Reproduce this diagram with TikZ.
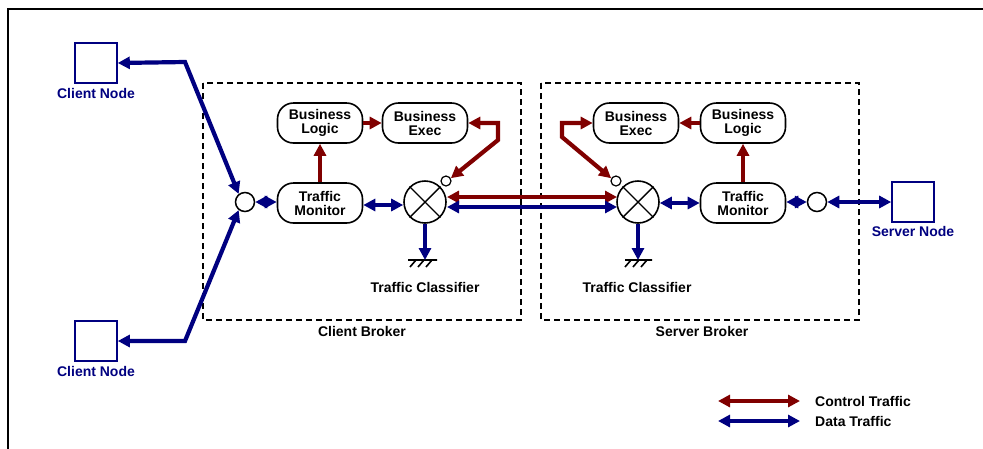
\documentclass[tikz,border=0pt]{standalone}
\usepackage{fontspec}
\setmainfont{Liberation Sans}
\usetikzlibrary{arrows.meta}
\definecolor{ctrl}{RGB}{128,0,0}
\definecolor{dat}{RGB}{0,0,128}
\begin{document}
\begin{tikzpicture}[x=1pt,y=-1pt,
  lbl/.style={font=\fontsize{14}{15}\selectfont\bfseries, inner sep=0pt, align=center},
  blbl/.style={lbl, text=dat},
  proc/.style={draw, line width=1.6pt, rounded corners=16pt, minimum width=85pt, minimum height=40pt, inner sep=0pt, align=center, font=\fontsize{14}{14}\selectfont\bfseries},
  port/.style={draw, line width=1.5pt, circle, minimum size=19pt, inner sep=0pt},
  tiny/.style={draw, line width=1.2pt, circle, minimum size=10pt, inner sep=0pt},
  mixer/.style={draw, line width=1.6pt, circle, minimum size=42pt, inner sep=0pt},
  hostbox/.style={draw=dat, line width=1.6pt, minimum width=42pt, minimum height=40pt, inner sep=0pt},
  broker/.style={draw, line width=1.3pt, dash pattern=on 6pt off 4pt},
  gnd/.style={line width=1.6pt},
  tip/.style={-{Triangle[length=12pt,width=12pt]}},
  tips/.style={{Triangle[length=12pt,width=12pt]}-{Triangle[length=12pt,width=12pt]}},
  cflow/.style={draw=ctrl, line width=4.2pt},
  dflow/.style={draw=dat, line width=4.2pt},
]
\useasboundingbox (0,0) rectangle (983,448);
\draw[line width=1.8pt] (1010,9) -- (8,9) -- (8,470);

% brokers
\draw[broker] (203,83) rectangle (521,320);
\draw[broker] (541,83) rectangle (859,320);
\node[lbl] (cbl) at (362,331) {Client Broker};
\node[lbl] (sbl) at (702,331) {Server Broker};

% client nodes
\node[hostbox] (cn1) at (96,63) {};
\node[blbl] (cn1l) at (96,93) {Client Node};
\node[hostbox] (cn2) at (96,341) {};
\node[blbl] (cn2l) at (96,371) {Client Node};

% server node
\node[hostbox] (sn) at (913,202) {};
\node[blbl] (snl) at (913,231) {Server Node};

% client broker
\node[port] (cp) at (245,202) {};
\node[proc] (cbl1) at (320,123) {Business\\Logic};
\node[proc] (cbe) at (425,123) {Business\\Exec};
\node[proc] (ctm) at (320,203) {Traffic\\Monitor};
\node[mixer] (cx) at (425,202) {};
\draw[line width=1.4pt] (cx.45) -- (cx.225) (cx.135) -- (cx.315);
\node[tiny] (cs) at (446,181) {};
\coordinate (cg) at (425,260);
\draw[gnd] (408,260) -- (437,260)
  (416,260) -- (410,267) (424,260) -- (418,267) (432,260) -- (426,267);
\node[lbl] (ctc) at (425,287) {Traffic Classifier};

% server broker
\node[proc] (sbe) at (636,123) {Business\\Exec};
\node[proc] (sbl1) at (743,123) {Business\\Logic};
\node[proc] (stm) at (743,203) {Traffic\\Monitor};
\node[mixer] (sx) at (638,202) {};
\draw[line width=1.4pt] (sx.45) -- (sx.225) (sx.135) -- (sx.315);
\node[tiny] (ss) at (616,181) {};
\coordinate (sg) at (638,260);
\draw[gnd] (625,260) -- (652,260)
  (631,260) -- (625,267) (639,260) -- (633,267) (647,260) -- (641,267);
\node[lbl] (stc) at (637,287) {Traffic Classifier};
\node[port] (sp) at (817,202) {};

% client-side data links
\coordinate (k1) at (185,62);
\coordinate (k2) at (185,341);
\draw[dflow, tips] (cn1.east) -- (k1) -- (cp.128);
\draw[dflow, tips] (cn2.east) -- (k2) -- (cp.232);
\draw[dflow, tips] (cp.east) -- (ctm.west |- cp.east);
\draw[dflow, tips] (ctm.east |- 0,205) -- (cx.west |- 0,205);
\draw[dflow, tip] (cx.south) -- (cg);

% client control
\draw[cflow, tip] (ctm.north) -- (cbl1.south);
\draw[cflow, tip] (cbl1.east) -- (cbe.west);
\coordinate (c1) at (498,123);
\coordinate (c2) at (498,140);
\draw[cflow, tips] (cbe.east) -- (c1) -- (c2) -- (cs.30);

% inter-broker
\draw[cflow, tips] (447,197) -- (617,197);
\draw[dflow, tips] (447,207) -- (617,207);

% server-side
\draw[dflow, tip] (sx.south) -- (sg);
\draw[dflow, tips] (sx.east |- 0,203) -- (stm.west);
\draw[dflow, tips] (stm.east |- sp.west) -- (sp.west);
\draw[dflow, tips] (sp.east) -- (sn.west);
\draw[cflow, tip] (stm.north) -- (sbl1.south);
\draw[cflow, tip] (sbl1.west) -- (sbe.east);
\coordinate (s1) at (562,123);
\coordinate (s2) at (562,137);
\draw[cflow, tips] (sbe.west) -- (s1) -- (s2) -- (ss.150);

% legend
\coordinate (la) at (718,401);
\coordinate (lb) at (800,401);
\coordinate (lc) at (718,421);
\coordinate (ld) at (800,421);
\draw[cflow, tips] (la) -- (lb);
\draw[dflow, tips] (lc) -- (ld);
\node[lbl, anchor=west] (lt1) at (815,401) {Control Traffic};
\node[lbl, anchor=west] (lt2) at (815,421) {Data Traffic};
\end{tikzpicture}
\end{document}
